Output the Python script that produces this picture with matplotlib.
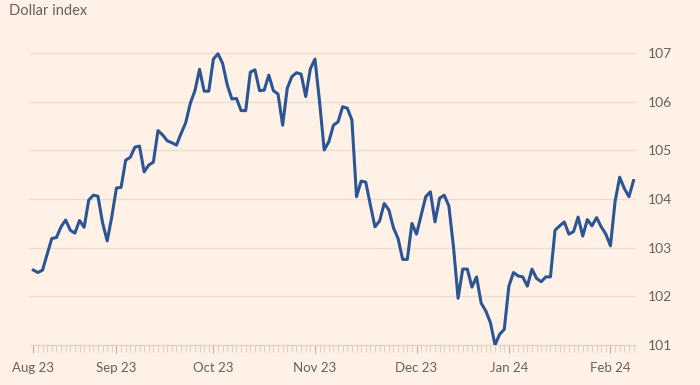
import numpy as np
import pandas as pd
import matplotlib
matplotlib.use('Agg')
import matplotlib.pyplot as plt

# Dollar index, business days 8 Aug 2023 - 8 Feb 2024 (no Christmas / New Year)
start = '2023-08-08'
end = '2024-02-08'
holidays = ['2023-12-25', '2024-01-01']

values = [102.54, 102.49, 102.54, 102.87, 103.19, 103.21, 103.43, 103.57, 103.36, 103.30,
          103.56, 103.42, 103.98, 104.08, 104.06, 103.51, 103.14, 103.64, 104.23, 104.24,
          104.80, 104.86, 105.07, 105.09, 104.56, 104.70, 104.76, 105.41, 105.32, 105.20,
          105.16, 105.11, 105.35, 105.57, 105.97, 106.23, 106.67, 106.22, 106.22, 106.88,
          106.99, 106.79, 106.35, 106.06, 106.07, 105.82, 105.82, 106.61, 106.66, 106.23,
          106.24, 106.55, 106.23, 106.16, 105.52, 106.28, 106.52, 106.60, 106.57, 106.11,
          106.68, 106.88, 106.00, 105.01, 105.18, 105.52, 105.59, 105.90, 105.87, 105.63,
          104.05, 104.37, 104.35, 103.88, 103.43, 103.55, 103.91, 103.78, 103.41, 103.19,
          102.76, 102.76, 103.50, 103.28, 103.67, 104.05, 104.15, 103.53, 104.02, 104.08,
          103.86, 103.02, 101.96, 102.56, 102.56, 102.19, 102.40, 101.86, 101.70, 101.46,
          101.00, 101.22, 101.32, 102.21, 102.49, 102.42, 102.40, 102.21, 102.56, 102.37,
          102.30, 102.40, 102.40, 103.36, 103.45, 103.53, 103.28, 103.33, 103.63, 103.24,
          103.58, 103.45, 103.62, 103.43, 103.28, 103.04, 103.95, 104.45, 104.22, 104.05,
          104.38]

yticks = [101, 102, 103, 104, 105, 106, 107]

dates = pd.bdate_range(start, end)
dates = dates[~dates.isin(pd.to_datetime(holidays))]
x = np.arange(len(values))

# month label at the start and at the first trading day of each month
month_idx = [0] + [i for i in range(1, len(dates)) if dates[i].month != dates[i - 1].month]
month_lab = [dates[i].strftime('%b %y') for i in month_idx]

bg = '#fff1e5'
grey = '#66605c'
plt.rcParams['font.family'] = ['Lato', 'DejaVu Sans']

fig = plt.figure(figsize=(7, 3.85), dpi=100, facecolor=bg)
ax = fig.add_axes([0.043, 0.104, 0.866, 0.8145])
ax.set_facecolor(bg)

ax.plot(x, values, color='#2b5594', lw=2.2, solid_joinstyle='round', zorder=3)

ax.set_xlim(-0.7, 130.6)
ax.set_ylim(101, 107.45)
ax.set_yticks(yticks)
ax.yaxis.tick_right()
ax.tick_params(axis='y', length=0, pad=8, labelsize=10, labelcolor=grey)
ax.grid(axis='y', color='#e9ddd2', lw=1)
ax.set_axisbelow(True)

ax.set_xticks(month_idx)
ax.set_xticklabels(month_lab)
ax.set_xticks(x, minor=True)
ax.tick_params(axis='x', which='major', length=6, color='#b8aea5', labelsize=9.5,
               labelcolor=grey, pad=6)
ax.tick_params(axis='x', which='minor', length=5, color='#ddd2c8', width=0.8)

for s in ['top', 'right', 'left']:
    ax.spines[s].set_visible(False)
ax.spines['bottom'].set_color('#ddd2c8')

fig.text(0.013, 0.99, 'Dollar index', ha='left', va='top', fontsize=10.5, color=grey)

fig.savefig('out.png', dpi=100, facecolor=bg)
